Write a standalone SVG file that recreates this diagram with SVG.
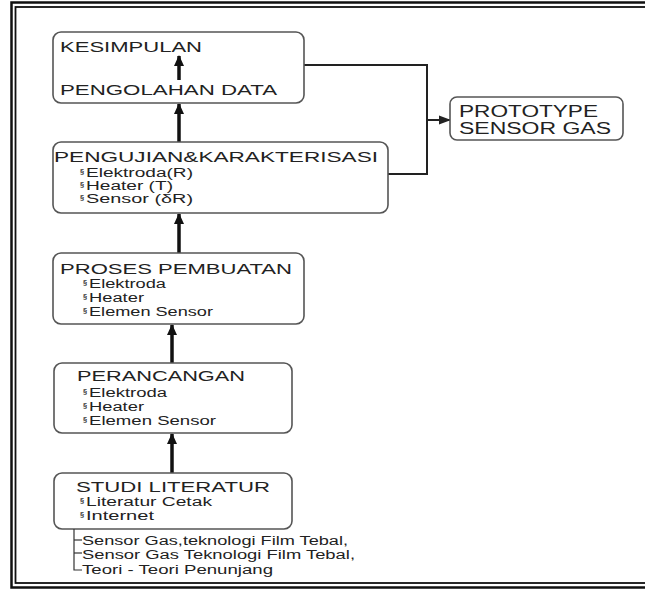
<svg xmlns="http://www.w3.org/2000/svg" width="645" height="590" viewBox="0 0 645 590">
<defs>
<marker id="ah" markerUnits="userSpaceOnUse" markerWidth="12" markerHeight="12" viewBox="0 0 12 12" refX="10" refY="6" orient="auto">
<path d="M0,1 L11,6 L0,11 Z" fill="#111"/>
</marker>
<marker id="ahs" markerUnits="userSpaceOnUse" markerWidth="12" markerHeight="10" viewBox="0 0 12 10" refX="11" refY="5" orient="auto">
<path d="M0,0.5 L12,5 L0,9.5 Z" fill="#222"/>
</marker>
</defs>
<style>
.box{fill:#fff;stroke:#555;stroke-width:1.6}
.t{font-family:"Liberation Sans",Arial,sans-serif;font-size:15.5px;fill:#222}
.p{font-family:"Liberation Sans",Arial,sans-serif;font-size:16px;fill:#222}
.i{font-family:"Liberation Sans",Arial,sans-serif;font-size:12.5px;fill:#222}
.b{font-family:"Liberation Sans",Arial,sans-serif;font-size:7.5px;font-weight:bold;fill:#333}
.s{font-family:"Liberation Sans",Arial,sans-serif;font-size:12.5px;fill:#222}
.arr{stroke:#111;stroke-width:3.5;fill:none;marker-end:url(#ah)}
.ln{stroke:#222;stroke-width:2;fill:none}
</style>
<rect x="0" y="0" width="645" height="590" fill="#fff"/>
<g id="frame" fill="none" stroke="#111">
<rect x="11.5" y="2.5" width="650" height="585" stroke-width="2.5"/>
<rect x="15.5" y="7" width="650" height="576" stroke-width="1.8"/>
</g>
<g id="connectors">
<line class="arr" x1="172" y1="473" x2="172" y2="434"/>
<line class="arr" x1="172" y1="363" x2="172" y2="325"/>
<line class="arr" x1="179" y1="253" x2="179" y2="214"/>
<line class="arr" x1="179" y1="142" x2="179" y2="104"/>
<polyline class="ln" points="304,65 427,65 427,174 388,174"/>
<line class="ln" x1="427" y1="120" x2="450" y2="120" marker-end="url(#ahs)"/>
</g>
<g id="kesimpulan">
<rect class="box" x="53" y="32" width="251" height="71" rx="8"/>
<text class="t" x="60" y="52" textLength="142" lengthAdjust="spacingAndGlyphs">KESIMPULAN</text>
<line class="arr" x1="179" y1="80" x2="179" y2="56"/>
<text class="t" x="60" y="95" textLength="217" lengthAdjust="spacingAndGlyphs">PENGOLAHAN DATA</text>
</g>
<g id="pengujian">
<rect class="box" x="53" y="142" width="335" height="71" rx="8"/>
<text class="t" x="54" y="162" textLength="324" lengthAdjust="spacingAndGlyphs">PENGUJIAN&amp;KARAKTERISASI</text>
<text class="b" x="80" y="174">§</text><text class="i" x="86" y="177" textLength="107" lengthAdjust="spacingAndGlyphs">Elektroda(R)</text>
<text class="b" x="80" y="187">§</text><text class="i" x="86" y="190" textLength="87" lengthAdjust="spacingAndGlyphs">Heater (T)</text>
<text class="b" x="80" y="200">§</text><text class="i" x="86" y="203" textLength="107" lengthAdjust="spacingAndGlyphs">Sensor (δR)</text>
</g>
<g id="prototype">
<rect class="box" x="450" y="97" width="173" height="43" rx="7"/>
<text class="p" x="459" y="117" textLength="139" lengthAdjust="spacingAndGlyphs">PROTOTYPE</text>
<text class="p" x="459" y="134" textLength="152" lengthAdjust="spacingAndGlyphs">SENSOR GAS</text>
</g>
<g id="proses">
<rect class="box" x="53" y="253" width="251" height="71" rx="8"/>
<text class="t" x="60" y="274" textLength="232" lengthAdjust="spacingAndGlyphs">PROSES PEMBUATAN</text>
<text class="b" x="83" y="285">§</text><text class="i" x="89" y="288" textLength="77" lengthAdjust="spacingAndGlyphs">Elektroda</text>
<text class="b" x="83" y="299">§</text><text class="i" x="89" y="302" textLength="55" lengthAdjust="spacingAndGlyphs">Heater</text>
<text class="b" x="83" y="313">§</text><text class="i" x="89" y="316" textLength="124" lengthAdjust="spacingAndGlyphs">Elemen Sensor</text>
</g>
<g id="perancangan">
<rect class="box" x="54" y="363" width="238" height="70" rx="8"/>
<text class="t" x="77" y="381" textLength="168" lengthAdjust="spacingAndGlyphs">PERANCANGAN</text>
<text class="b" x="83" y="394">§</text><text class="i" x="89" y="397" textLength="78" lengthAdjust="spacingAndGlyphs">Elektroda</text>
<text class="b" x="83" y="408">§</text><text class="i" x="89" y="411" textLength="55" lengthAdjust="spacingAndGlyphs">Heater</text>
<text class="b" x="83" y="422">§</text><text class="i" x="89" y="425" textLength="127" lengthAdjust="spacingAndGlyphs">Elemen Sensor</text>
</g>
<g id="studi">
<rect class="box" x="54" y="473" width="238" height="56" rx="8"/>
<text class="t" x="76" y="492" textLength="194" lengthAdjust="spacingAndGlyphs">STUDI LITERATUR</text>
<text class="b" x="80" y="503">§</text><text class="i" x="86" y="506" textLength="126" lengthAdjust="spacingAndGlyphs">Literatur Cetak</text>
<text class="b" x="80" y="517">§</text><text class="i" x="86" y="520" textLength="68" lengthAdjust="spacingAndGlyphs">Internet</text>
</g>
<g id="referensi">
<polyline fill="none" stroke="#333" stroke-width="1.2" points="74,529 74,570 82,570"/>
<line x1="74" y1="540" x2="82" y2="540" stroke="#333" stroke-width="1.2"/>
<line x1="74" y1="553" x2="82" y2="553" stroke="#333" stroke-width="1.2"/>
<text class="s" x="82" y="545" textLength="266" lengthAdjust="spacingAndGlyphs">Sensor Gas,teknologi Film Tebal,</text>
<text class="s" x="82" y="558.5" textLength="273" lengthAdjust="spacingAndGlyphs">Sensor Gas Teknologi Film Tebal,</text>
<text class="s" x="82" y="574" textLength="191" lengthAdjust="spacingAndGlyphs">Teori - Teori Penunjang</text>
</g>
</svg>
